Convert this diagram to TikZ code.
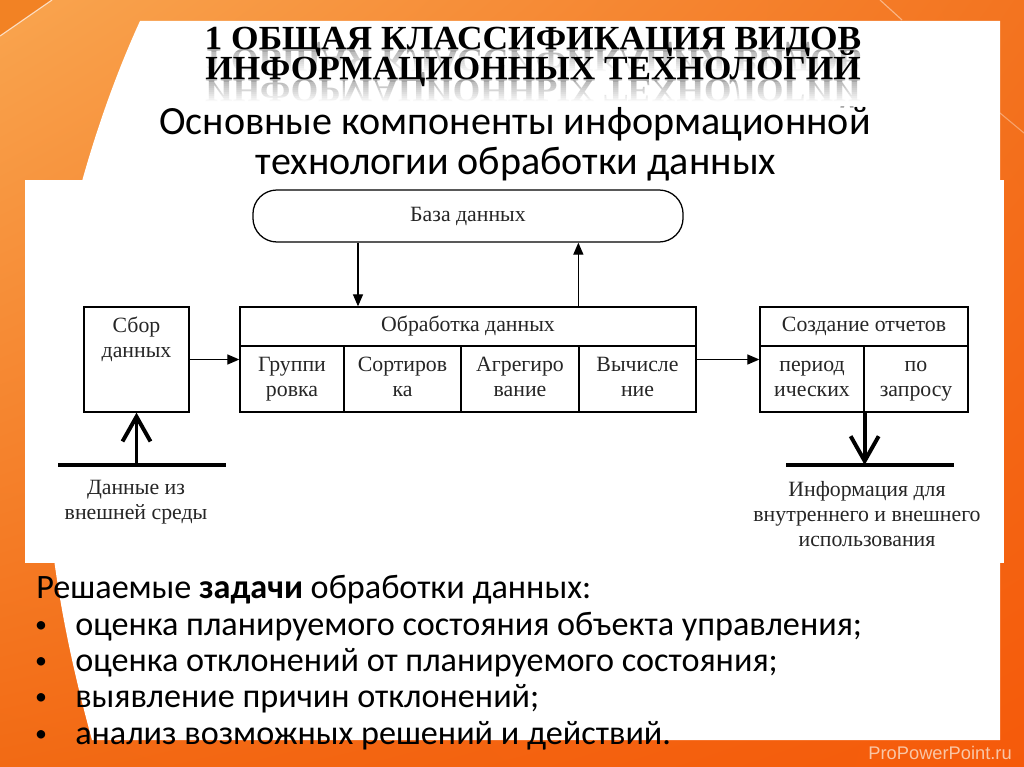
\documentclass[tikz,border=0pt]{standalone}
\usepackage{fontspec}
\setmainfont{Liberation Serif}
\newfontfamily\calibrif{Carlito}
\newfontfamily\arialf{Liberation Sans}
\usetikzlibrary{arrows.meta,shadings}

\definecolor{orangeUL}{HTML}{F9A54F}
\definecolor{orangeUR}{HTML}{F37420}
\definecolor{orangeLL}{HTML}{F26A14}
\definecolor{orangeLR}{HTML}{F55A0A}
\definecolor{orangeCorner}{HTML}{F28224}
\definecolor{markColor}{HTML}{F9C6A6}

\newcommand\dgmfont{\fontsize{15.5}{17.8}\selectfont}
\newcommand\headfont{\bfseries\fontsize{24}{24}\selectfont}
\newcommand\subfont{\calibrif\fontsize{28.5}{28.5}\selectfont}
\newcommand\taskfont{\calibrif\fontsize{24.3}{24.3}\selectfont}
\newcommand\headA{\resizebox{467pt}{\height}{\headfont 1 ОБЩАЯ КЛАССИФИКАЦИЯ ВИДОВ}}
\newcommand\headB{\resizebox{466pt}{\height}{\headfont ИНФОРМАЦИОННЫХ ТЕХНОЛОГИЙ}}
\newcommand\twolines[2]{\strut#1\\\strut#2}

\tikzset{
  box/.style={draw, line width=0.9pt, inner sep=0pt, font=\dgmfont, align=center, text=black!85},
  note/.style={inner sep=0pt, font=\dgmfont, align=center, text=black!85},
  arr/.style={-{Triangle[length=0.3cm,width=0.25cm]}, line width=0.9pt},
  fatarr/.style={-{Straight Barb[length=0.62cm,width=0.7cm]}, line width=2.8pt},
  fatline/.style={line width=2.8pt},
  task/.style={inner sep=0pt, anchor=base west, font=\taskfont},
  dot/.style={inner sep=0pt, anchor=base, font=\calibrif\fontsize{17}{17}\selectfont},
  mirror/.style={transform shape, inner sep=0pt, anchor=base, text=black!35},
}

\begin{document}
\begin{tikzpicture}[x=0.025cm, y=-0.025cm]
    \useasboundingbox (0,0) rectangle (1024,767);

    % slide background
    \shade[upper left=orangeUL, upper right=orangeUR, lower left=orangeLL, lower right=orangeLR]
        (0,0) rectangle (1024,767);
    \fill[orangeCorner] (0,0) -- (52,0) -- (0,36) -- cycle;
    \draw[white, opacity=0.7, line width=0.8pt] (52,0) -- (0,36);
    \draw[white, opacity=0.45, line width=0.8pt] (880,0) -- (902,20);
    \draw[white, opacity=0.35, line width=0.8pt] (1000,113) -- (1024,133);
    \fill[white] (140,21) -- (1000,21) -- (1000,740) -- (92,740)
        .. controls (70,660) and (48,560) .. (45,450)
        .. controls (40,300) and (90,130) .. (140,21) -- cycle;
    \fill[white] (25,180) rectangle (1004,563);

    % title with reflection
    \begin{scope}[shift={(533,50)}, yscale=-1]
        \node[mirror] (headArefl) at (0,0) {\headA};
    \end{scope}
    \begin{scope}[shift={(533,80)}, yscale=-1]
        \node[mirror] (headBrefl) at (0,0) {\headB};
    \end{scope}
    \foreach \i in {0,...,9} {
        \fill[white, opacity=0.25+0.075*\i] (195,52+2*\i) rectangle (875,54+2*\i);
        \fill[white, opacity=0.25+0.075*\i] (195,82+2*\i) rectangle (875,84+2*\i);
    }
    \fill[white] (195,102) rectangle (875,106);
    \node[inner sep=0pt, anchor=base] (headA) at (533,50) {\headA};
    \node[inner sep=0pt, anchor=base] (headB) at (533,80) {\headB};

    \node[inner sep=0pt, anchor=base, font=\subfont] (subA) at (515,135) {Основные компоненты информационной};
    \node[inner sep=0pt, anchor=base, font=\subfont] (subB) at (516,175) {технологии обработки данных};

    % diagram
    \node[box, rounded corners=0.6cm, minimum width=10.75cm, minimum height=1.3cm] (bd) at (468,216) {База данных};

    \node[box, minimum width=2.625cm, minimum height=2.625cm] (sbor) at (136.5,359.5) {};
    \node[note, anchor=north] (sbortxt) at (136.5,315) {\twolines{Сбор}{данных}};

    \node[box, minimum width=11.4cm, minimum height=0.975cm] (obr) at (468,326.5) {Обработка данных};
    \node[box, minimum width=2.6cm, minimum height=1.65cm] (grp) at (292,379) {\twolines{Группи}{ровка}};
    \node[box, minimum width=2.925cm, minimum height=1.65cm] (srt) at (402.5,379) {\twolines{Сортиров}{ка}};
    \node[box, minimum width=2.95cm, minimum height=1.65cm] (agr) at (520,379) {\twolines{Агрегиро}{вание}};
    \node[box, minimum width=2.925cm, minimum height=1.65cm] (vych) at (637.5,379) {\twolines{Вычисле}{ние}};

    \node[box, minimum width=5.2cm, minimum height=0.975cm] (otch) at (864,326.5) {Создание отчетов};
    \node[box, minimum width=2.6cm, minimum height=1.65cm] (per) at (812,379) {\twolines{период}{ических}};
    \node[box, minimum width=2.6cm, minimum height=1.65cm] (zap) at (916,379) {\twolines{по}{запросу}};

    \coordinate (dn) at (358,0);
    \draw[arr] (bd.south -| dn) -- (obr.north -| dn);
    \draw[arr] (obr.north -| vych.west) -- (bd.south -| vych.west);
    \draw[arr] (sbor.east) -- (sbor.east -| grp.west);
    \draw[arr] (vych.east |- sbor.east) -- (per.west |- sbor.east);

    \coordinate (inL) at (58,465);
    \coordinate (inR) at (226,465);
    \draw[fatline] (inL) -- (inR);
    \draw[fatarr] (sbor.south |- inL) -- (sbor.south);
    \coordinate (outL) at (786,465);
    \coordinate (outR) at (954,465);
    \draw[fatline] (outL) -- (outR);
    \draw[fatarr] (per.south east) -- (per.south east |- outL);

    \node[note] (srcnote) at (136,502) {Данные из\\внешней среды};
    \node[note] (usenote) at (867,514) {Информация для\\внутреннего и внешнего\\использования};

    % tasks
    \node[task] (task0) at (36,598) {Решаемые \textbf{задачи} обработки данных:};
    \node[task] (task1) at (75,635) {оценка планируемого состояния объекта управления;};
    \node[task] (task2) at (75,671) {оценка отклонений от планируемого состояния;};
    \node[task] (task3) at (75,707) {выявление причин отклонений;};
    \node[task] (task4) at (75,744) {анализ возможных решений и действий.};
    \node[dot] (dot1) at (41,632) {•};
    \node[dot] (dot2) at (41,668) {•};
    \node[dot] (dot3) at (41,704) {•};
    \node[dot] (dot4) at (41,741) {•};

    \node[inner sep=0pt, anchor=base east, font=\arialf\fontsize{13}{13}\selectfont, text=markColor] (mark) at (1012,759) {ProPowerPoint.ru};
\end{tikzpicture}
\end{document}
